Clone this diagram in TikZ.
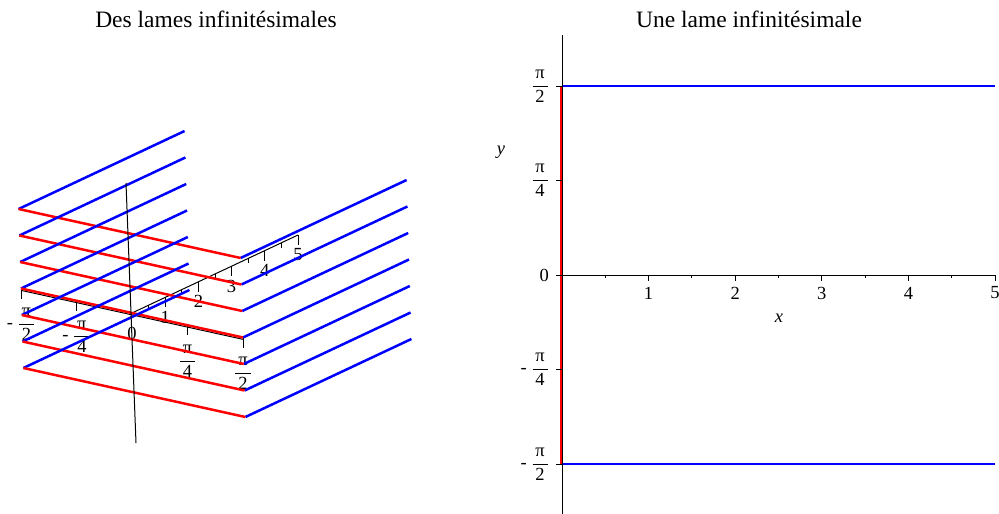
\documentclass[tikz,border=0pt]{standalone}
\usepackage{fontspec}
\setmainfont{Liberation Serif}
\newcommand{\frpi}[1]{$\displaystyle\frac{\,\mbox{π}\,}{\,\mbox{#1}\,}$}
\begin{document}
\begin{tikzpicture}[x=1pt, y=-1pt,
		titre/.style={font=\fontsize{23.5}{28}\selectfont, inner sep=0pt},
		etiq/.style={font=\fontsize{18.5}{22}\selectfont, inner sep=0pt},
		axe/.style={draw=black, line width=1pt},
		bleu/.style={draw=blue, line width=2.5pt},
		rouge/.style={draw=red, line width=2.5pt}]
	\useasboundingbox (0,0) rectangle (999,514);
	\node[titre] (t1) at (216,19) {Des lames infinitésimales};
	\node[titre] (t2) at (749,19) {Une lame infinitésimale};
	% les lames
	\begin{scope}[shift={(132,313)}, x={(33.2pt,15.6pt)}, y={(111pt,-24.5pt)}, z={(-0.8pt,26.5pt)}]
		\draw[axe] (0,0,0) -- (5,0,0);
		\draw[axe] (0,-1,-0.07) -- (0,1,-0.07);
		\foreach \i in {1,...,5}
			\draw[axe] (\i,0,0) -- ++(0pt,-10pt) ++(0pt,-10pt) node[etiq] (gx\i) {\i};
		\foreach \i in {0.5,1.5,...,4.5}
			\draw[axe] (\i,0,0) -- ++(0pt,-5pt);
		\foreach \t in {-1,-0.5,0.5,1}
			\draw[axe] (0,\t,0) -- ++(0pt,-10pt);
		\path (0,-1,0) ++(0pt,-36pt) node[etiq] (gy1) {- \frpi{2}};
		\path (0,-0.5,0) ++(0pt,-36pt) node[etiq] (gy2) {- \frpi{4}};
		\path (0,0,0) ++(0pt,-20pt) node[etiq] (gy3) {0};
		\path (0,0.5,0) ++(0pt,-36pt) node[etiq] (gy4) {\frpi{4}};
		\path (0,1,0) ++(0pt,-36pt) node[etiq] (gy5) {\frpi{2}};
		\foreach \k in {3,2,...,-3}{
			\draw[bleu] (5,-1,\k) -- (0,-1,\k) (0,1,\k) -- (5,1,\k);
			\draw[rouge] (0,-1,\k) -- (0,1,\k);
		}
	\end{scope}
	\draw[axe] (126,183) -- (136,443);
	% une lame
	\begin{scope}[shift={(562,275)}, x={(86.6pt,0pt)}, y={(0pt,189pt)}]
		\draw[bleu, line width=2.3pt] (0,1) -- (5,1) (0,-1) -- (5,-1);
		\draw[rouge, line width=2pt] ([xshift=-1.3pt]0,-1) -- ([xshift=-1.3pt]0,1);
		\draw[axe] (0,0) -- (5,0);
		\draw[axe] (0,-1.265) -- (0,1.27);
		\foreach \i in {1,...,5}
			\draw[axe] (\i,0) -- ++(0pt,-6pt) ++(0pt,-12pt) node[etiq] (rx\i) {\i};
		\foreach \i in {0.5,1.5,...,4.5}
			\draw[axe] (\i,0) -- ++(0pt,-3pt);
		\foreach \t in {-1,-0.5,0,0.5,1}
			\draw[axe] (0,\t) -- ++(-6pt,0pt);
		\node[etiq, anchor=east] (ry1) at ([xshift=-13pt]0,-1) {- \frpi{2}};
		\node[etiq, anchor=east] (ry2) at ([xshift=-13pt]0,-0.5) {- \frpi{4}};
		\node[etiq, anchor=east] (ry3) at ([xshift=-13pt]0,0) {0};
		\node[etiq, anchor=east] (ry4) at ([xshift=-13pt]0,0.5) {\frpi{4}};
		\node[etiq, anchor=east] (ry5) at ([xshift=-13pt]0,1) {\frpi{2}};
	\end{scope}
	\node[etiq] (nx) at (779,318) {\textit{x}};
	\node[etiq] (ny) at (501,152) {\textit{y}};
\end{tikzpicture}
\end{document}
